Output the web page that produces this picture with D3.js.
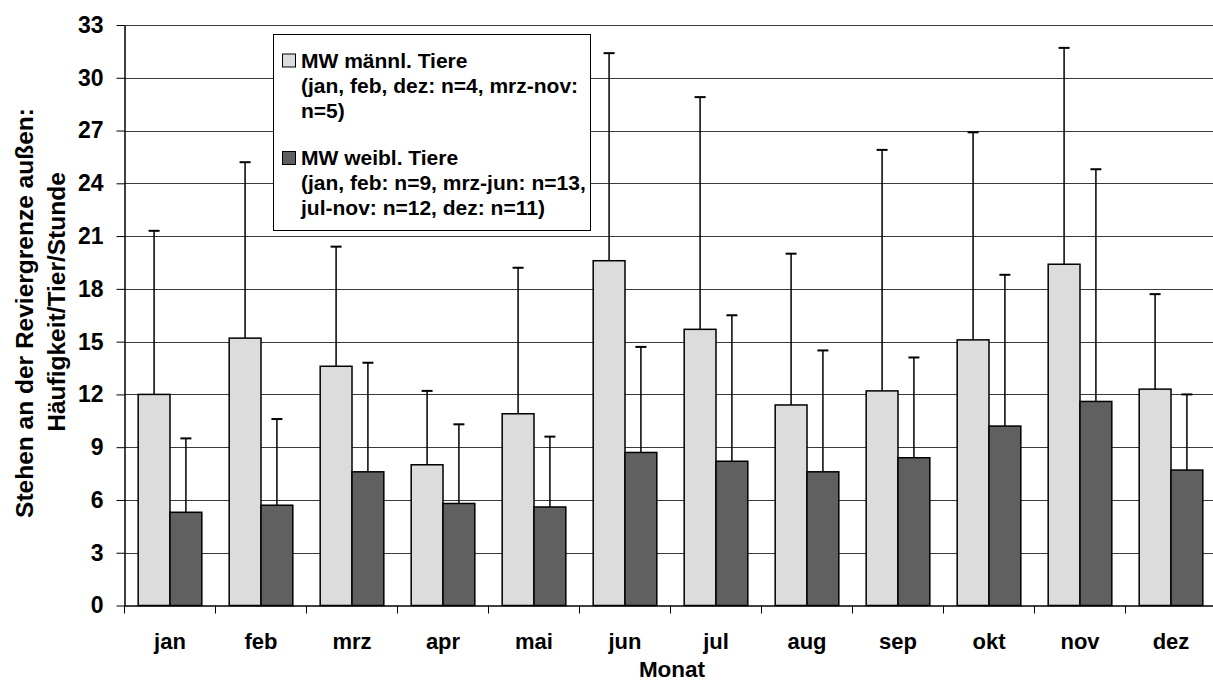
<!DOCTYPE html>
<html>
<head>
<meta charset="utf-8">
<script src="https://cdn.jsdelivr.net/npm/d3@7"></script>
<style>
  body { margin: 0; background: #fff; }
  svg { display: block; font-family: "Liberation Sans", Arial, sans-serif; font-weight: bold; }
</style>
</head>
<body>
<div id="chart"></div>
<script>
// data
const months = ["jan", "feb", "mrz", "apr", "mai", "jun", "jul", "aug", "sep", "okt", "nov", "dez"];
const maleMean = [12.0, 15.2, 13.6, 8.0, 10.9, 19.6, 15.7, 11.4, 12.2, 15.1, 19.4, 12.3];
const maleSd = [9.3, 10.0, 6.8, 4.2, 8.3, 11.8, 13.2, 8.6, 13.7, 11.8, 12.3, 5.4];
const femaleMean = [5.3, 5.7, 7.6, 5.8, 5.6, 8.7, 8.2, 7.6, 8.4, 10.2, 11.6, 7.7];
const femaleSd = [4.2, 4.9, 6.2, 4.5, 4.0, 6.0, 8.3, 6.9, 5.7, 8.6, 13.2, 4.3];
const yTicks = [0, 3, 6, 9, 12, 15, 18, 21, 24, 27, 30, 33];
const seriesKeys = ["m", "w"];
const colors = { m: "#dcdcdc", w: "#606060" };
const legendLines = {
  m: ["MW männl. Tiere", "(jan, feb, dez: n=4, mrz-nov:", "n=5)"],
  w: ["MW weibl. Tiere", "(jan, feb: n=9, mrz-jun: n=13,", "jul-nov: n=12, dez: n=11)"]
};

const width = 1213, height = 682;
const plot = { left: 124.5, right: 1216.5, top: 25, bottom: 605.5 };

const data = months.map((m, i) => ({
  month: m,
  m: { mean: maleMean[i], sd: maleSd[i] },
  w: { mean: femaleMean[i], sd: femaleSd[i] }
}));

const svg = d3.select("#chart").append("svg")
  .attr("width", width)
  .attr("height", height);

const x0 = d3.scaleBand().domain(months).range([plot.left, plot.right]).padding(0);
const x1 = d3.scaleBand().domain(seriesKeys).range([0, x0.bandwidth()])
  .paddingInner(0).paddingOuter(0.43);
const y = d3.scaleLinear().domain([0, 33]).range([plot.bottom, plot.top]);

// gridlines
svg.append("g")
  .selectAll("line")
  .data(yTicks.slice(1))
  .join("line")
  .attr("x1", plot.left).attr("x2", plot.right)
  .attr("y1", d => Math.round(y(d)) + 0.5).attr("y2", d => Math.round(y(d)) + 0.5)
  .attr("stroke", "#3a3a3a").attr("stroke-width", 1.2);

// bars
const groups = svg.append("g")
  .selectAll("g")
  .data(data)
  .join("g")
  .attr("transform", d => `translate(${x0(d.month)},0)`);

groups.selectAll("rect")
  .data(d => seriesKeys.map(k => ({ key: k, v: d[k] })))
  .join("rect")
  .attr("x", d => x1(d.key))
  .attr("y", d => y(d.v.mean))
  .attr("width", x1.bandwidth())
  .attr("height", d => y(0) - y(d.v.mean))
  .attr("fill", d => colors[d.key])
  .attr("stroke", "#000")
  .attr("stroke-width", 1.5);

// error bars (upper only)
const err = groups.selectAll("g.err")
  .data(d => seriesKeys.map(k => ({ key: k, v: d[k] })))
  .join("g").attr("class", "err");

err.append("line")
  .attr("x1", d => x1(d.key) + x1.bandwidth() / 2)
  .attr("x2", d => x1(d.key) + x1.bandwidth() / 2)
  .attr("y1", d => y(d.v.mean))
  .attr("y2", d => y(d.v.mean + d.v.sd))
  .attr("stroke", "#000").attr("stroke-width", 1.5);

err.append("line")
  .attr("x1", d => x1(d.key) + x1.bandwidth() / 2 - 5.5)
  .attr("x2", d => x1(d.key) + x1.bandwidth() / 2 + 5.5)
  .attr("y1", d => y(d.v.mean + d.v.sd))
  .attr("y2", d => y(d.v.mean + d.v.sd))
  .attr("stroke", "#000").attr("stroke-width", 2);

// y axis
const yAxis = svg.append("g")
  .attr("transform", `translate(${plot.left},0)`)
  .call(d3.axisLeft(y).tickValues(yTicks).tickSize(8).tickPadding(13).tickSizeOuter(0));
yAxis.select(".domain").attr("stroke", "#000").attr("stroke-width", 1.5);
yAxis.selectAll(".tick line").attr("stroke", "#000");
yAxis.selectAll("text")
  .attr("font-size", 23).attr("font-weight", "bold")
  .attr("font-family", "Liberation Sans, Arial, sans-serif").attr("fill", "#000");

// x axis
const xAxis = svg.append("g")
  .attr("transform", `translate(0,${plot.bottom})`)
  .call(d3.axisBottom(x0).tickSize(0).tickPadding(28).tickSizeOuter(0));
xAxis.select(".domain").attr("stroke", "#000").attr("stroke-width", 1.5);
xAxis.selectAll("text")
  .attr("font-size", 22).attr("font-weight", "bold")
  .attr("font-family", "Liberation Sans, Arial, sans-serif").attr("fill", "#000");

// x ticks between categories
svg.append("g")
  .selectAll("line")
  .data(months)
  .join("line")
  .attr("x1", d => x0(d)).attr("x2", d => x0(d))
  .attr("y1", plot.bottom).attr("y2", plot.bottom + 8)
  .attr("stroke", "#000").attr("stroke-width", 1);

// axis titles
svg.append("text")
  .attr("x", 672).attr("y", 677)
  .attr("text-anchor", "middle").attr("font-size", 22.5)
  .text("Monat");

const yTitle = svg.append("text")
  .attr("transform", "rotate(-90)")
  .attr("text-anchor", "middle").attr("font-size", 24.5);
yTitle.append("tspan").attr("x", -313).attr("y", 33).text("Stehen an der Reviergrenze außen:");
yTitle.append("tspan").attr("x", -302).attr("y", 65).text("Häufigkeit/Tier/Stunde");

// legend
const legend = svg.append("g");
legend.append("rect")
  .attr("x", 273.5).attr("y", 34.5)
  .attr("width", 317).attr("height", 196)
  .attr("fill", "#fff").attr("stroke", "#000").attr("stroke-width", 1);

seriesKeys.forEach((k, i) => {
  const base = 67.5 + i * 97.5;
  legend.append("rect")
    .attr("x", 282.5).attr("y", base - 13.5)
    .attr("width", 13).attr("height", 13)
    .attr("fill", colors[k]).attr("stroke", "#000").attr("stroke-width", 1);
  const t = legend.append("text").attr("font-size", 21);
  legendLines[k].forEach((line, j) => {
    t.append("tspan").attr("x", 301).attr("y", base + j * 25).text(line);
  });
});
</script>
</body>
</html>
